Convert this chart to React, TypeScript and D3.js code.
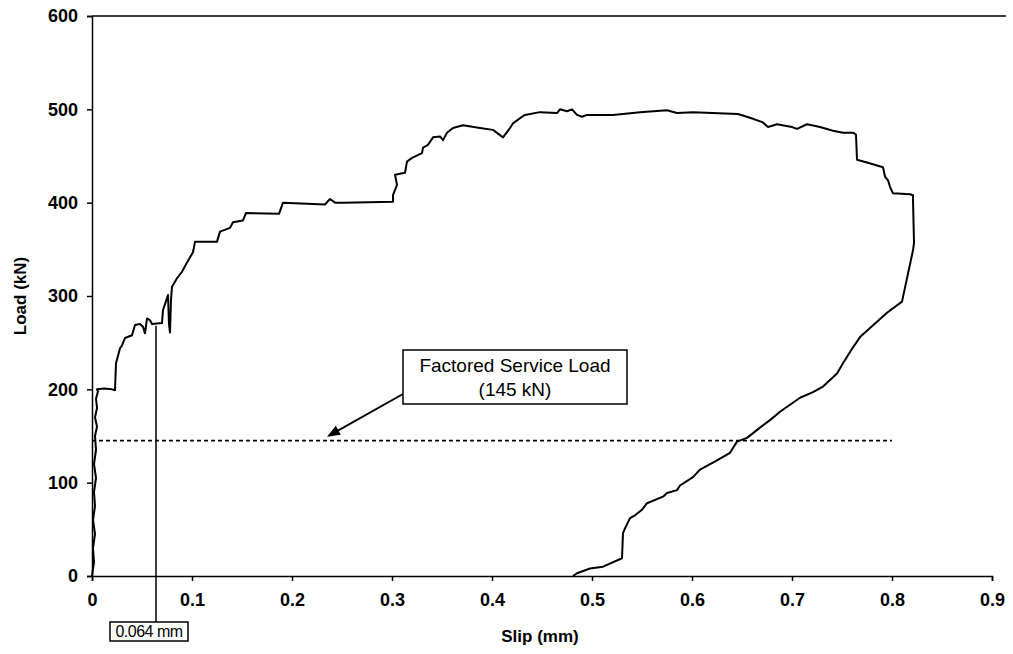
import { useRef, useEffect } from 'react';
import * as d3 from 'd3';

// slip (mm) and load (kN)
const slip = [
	0, 0.002, 0.001, 0.003, 0.001, 0.003, 0.002, 0.004, 0.002, 0.004, 0.003, 0.005, 0.003, 0.005, 0.004, 0.006, 0.005,
	0.012, 0.02, 0.023, 0.024, 0.028, 0.03, 0.033, 0.04, 0.043, 0.048, 0.051, 0.053, 0.055, 0.058, 0.06, 0.07, 0.071,
	0.076, 0.077, 0.078, 0.079, 0.08, 0.085, 0.09, 0.095, 0.101, 0.103, 0.125, 0.126, 0.128, 0.138, 0.141, 0.151, 0.154,
	0.187, 0.191, 0.233, 0.238, 0.243, 0.251, 0.301, 0.301, 0.305, 0.303, 0.313, 0.315, 0.32, 0.33, 0.331, 0.336, 0.341,
	0.348, 0.351, 0.355, 0.361, 0.371, 0.388, 0.401, 0.411, 0.418, 0.421, 0.43, 0.433, 0.448, 0.465, 0.468, 0.475, 0.48,
	0.485, 0.49, 0.495, 0.521, 0.548, 0.575, 0.585, 0.601, 0.646, 0.658, 0.671, 0.676, 0.685, 0.7, 0.705, 0.715, 0.728,
	0.741, 0.751, 0.761, 0.764, 0.765, 0.775, 0.791, 0.793, 0.796, 0.798, 0.801, 0.818, 0.821, 0.821, 0.822, 0.821, 0.81,
	0.795, 0.768, 0.761, 0.751, 0.745, 0.731, 0.721, 0.708, 0.688, 0.678, 0.668, 0.655, 0.645, 0.638, 0.625, 0.608, 0.601,
	0.588, 0.585, 0.575, 0.571, 0.555, 0.55, 0.543, 0.538, 0.533, 0.531, 0.53, 0.511, 0.498, 0.485, 0.481,
];
const load = [
	0, 15, 30, 45, 60, 75, 90, 105, 120, 135, 150, 160, 170, 180, 190, 198, 200,
	201, 200, 199, 228, 244, 247, 255, 258, 269, 270, 267, 260, 276, 274, 270, 271, 285,
	301, 269, 261, 296, 310, 319, 326, 336, 347, 358, 358, 362, 369, 373, 379, 381, 389,
	388, 400, 398, 404, 400, 400, 401, 408, 419, 430, 432, 444, 448, 453, 459, 462, 470,
	471, 467, 475, 480, 483, 480, 478, 470, 480, 485, 492, 494, 497, 496, 500, 498, 500,
	494, 492, 494, 494, 497, 499, 496, 497, 495, 491, 486, 481, 484, 481, 479, 484, 481,
	477, 475, 475, 473, 446, 443, 438, 428, 424, 417, 410, 409, 408, 403, 357, 349, 294,
	282, 256, 245, 228, 217, 203, 197, 191, 176, 167, 159, 148, 144, 132, 124, 114, 106,
	97, 92, 89, 85, 78, 71, 65, 62, 51, 46, 19, 10, 8, 3, 0,
];

const xTicks = [0, 0.1, 0.2, 0.3, 0.4, 0.5, 0.6, 0.7, 0.8, 0.9];
const yTicks = [0, 100, 200, 300, 400, 500, 600];

const serviceLoad = 145;
const serviceSlipEnd = 0.8;
const markSlip = 0.064;
const markLoad = 268;

const App = () => {
	const svgRef = useRef<SVGSVGElement>(null);
	const W = 1013;
	const H = 654;
	const margin = { top: 16, right: 21, bottom: 78, left: 92 };

	useEffect(() => {
		const svg = d3.select(svgRef.current);
		svg.selectAll('*').remove();

		const x = d3.scaleLinear().domain([0, 0.9]).range([margin.left, W - margin.right]);
		const y = d3.scaleLinear().domain([0, 600]).range([H - margin.bottom, margin.top]);
		const font = 'Arial, "Liberation Sans", sans-serif';

		// frame: top line runs to the right edge, no right border
		svg
			.append('line')
			.attr('x1', x(0))
			.attr('x2', 1006)
			.attr('y1', y(600))
			.attr('y2', y(600))
			.attr('stroke', '#000')
			.attr('stroke-width', 1.5);

		// y axis
		const yAxis = svg
			.append('g')
			.attr('transform', `translate(${x(0)},0)`)
			.call(d3.axisLeft(y).tickValues(yTicks).tickSize(5).tickPadding(9).tickFormat(d3.format('d')));
		yAxis.select('.domain').attr('stroke-width', 1.5);
		yAxis.selectAll('.tick line').attr('stroke-width', 1.5);
		yAxis
			.selectAll('text')
			.attr('font-family', font)
			.attr('font-weight', 'bold')
			.style('font-size', '18px')
			.attr('fill', '#000');

		// x axis
		const xAxis = svg
			.append('g')
			.attr('transform', `translate(0,${y(0)})`)
			.call(
				d3
					.axisBottom(x)
					.tickValues(xTicks)
					.tickSize(5)
					.tickPadding(12)
					.tickFormat((d) => (d === 0 ? '0' : d3.format('.1f')(d as number)))
			);
		xAxis.select('.domain').attr('stroke-width', 1.5);
		xAxis.selectAll('.tick line').attr('stroke-width', 1.5);
		xAxis
			.selectAll('text')
			.attr('font-family', font)
			.attr('font-weight', 'bold')
			.style('font-size', '18px')
			.attr('fill', '#000');

		// axis titles
		svg
			.append('text')
			.attr('x', 540)
			.attr('y', 642)
			.attr('text-anchor', 'middle')
			.attr('font-family', font)
			.attr('font-weight', 'bold')
			.style('font-size', '17px')
			.text('Slip (mm)');

		svg
			.append('text')
			.attr('transform', `translate(26,${y(300)}) rotate(-90)`)
			.attr('text-anchor', 'middle')
			.attr('font-family', font)
			.attr('font-weight', 'bold')
			.style('font-size', '17px')
			.text('Load (kN)');

		// factored service load line
		svg
			.append('line')
			.attr('x1', x(0))
			.attr('x2', x(serviceSlipEnd))
			.attr('y1', y(serviceLoad))
			.attr('y2', y(serviceLoad))
			.attr('stroke', '#000')
			.attr('stroke-width', 1.6)
			.attr('stroke-dasharray', '4,3');

		// load-slip curve
		const pts = slip.map((s, i) => [s, load[i]] as [number, number]);
		const line = d3
			.line<[number, number]>()
			.x((d) => x(d[0]))
			.y((d) => y(d[1]));
		svg
			.append('path')
			.datum(pts)
			.attr('d', line)
			.attr('fill', 'none')
			.attr('stroke', '#000')
			.attr('stroke-width', 2)
			.attr('stroke-linejoin', 'round');

		// 0.064 mm marker
		const mx = x(markSlip);
		svg
			.append('line')
			.attr('x1', mx)
			.attr('x2', mx)
			.attr('y1', y(markLoad))
			.attr('y2', 622)
			.attr('stroke', '#000')
			.attr('stroke-width', 1.5);
		svg
			.append('rect')
			.attr('x', 110)
			.attr('y', 622)
			.attr('width', 78)
			.attr('height', 19)
			.attr('fill', '#fff')
			.attr('stroke', '#000')
			.attr('stroke-width', 1.5);
		svg
			.append('text')
			.attr('x', 149)
			.attr('y', 637)
			.attr('text-anchor', 'middle')
			.attr('font-family', font)
			.style('font-size', '16px')
			.style('letter-spacing', '-0.5px')
			.text('0.064 mm');

		// callout for service load
		const bx = 403;
		const by = 350;
		const bw = 224;
		const bh = 54;
		svg
			.append('line')
			.attr('x1', bx)
			.attr('y1', by + 44)
			.attr('x2', x(0.235) + 2)
			.attr('y2', y(serviceLoad) - 5)
			.attr('stroke', '#000')
			.attr('stroke-width', 2);
		// arrow head
		const tip: [number, number] = [x(0.235), y(serviceLoad) - 4];
		const ang = Math.atan2(by + 44 - tip[1], bx - tip[0]);
		const hl = 14;
		const hw = 0.38;
		svg
			.append('path')
			.attr(
				'd',
				`M${tip[0]},${tip[1]}L${tip[0] + hl * Math.cos(ang + hw)},${tip[1] + hl * Math.sin(ang + hw)}L${
					tip[0] + hl * Math.cos(ang - hw)
				},${tip[1] + hl * Math.sin(ang - hw)}Z`
			)
			.attr('fill', '#000');

		svg
			.append('rect')
			.attr('x', bx)
			.attr('y', by)
			.attr('width', bw)
			.attr('height', bh)
			.attr('fill', '#fff')
			.attr('stroke', '#000')
			.attr('stroke-width', 1.5);
		svg
			.append('text')
			.attr('x', bx + bw / 2)
			.attr('y', by + 22)
			.attr('text-anchor', 'middle')
			.attr('font-family', font)
			.style('font-size', '19px')
			.text('Factored Service Load');
		svg
			.append('text')
			.attr('x', bx + bw / 2)
			.attr('y', by + 46)
			.attr('text-anchor', 'middle')
			.attr('font-family', font)
			.style('font-size', '19px')
			.text('(145 kN)');
	}, []);

	return (
		<div style={{ position: 'absolute', left: 0, top: 0, width: W, height: H, background: '#fff' }}>
			<svg ref={svgRef} width={W} height={H} style={{ display: 'block' }} />
		</div>
	);
};

export default App;
